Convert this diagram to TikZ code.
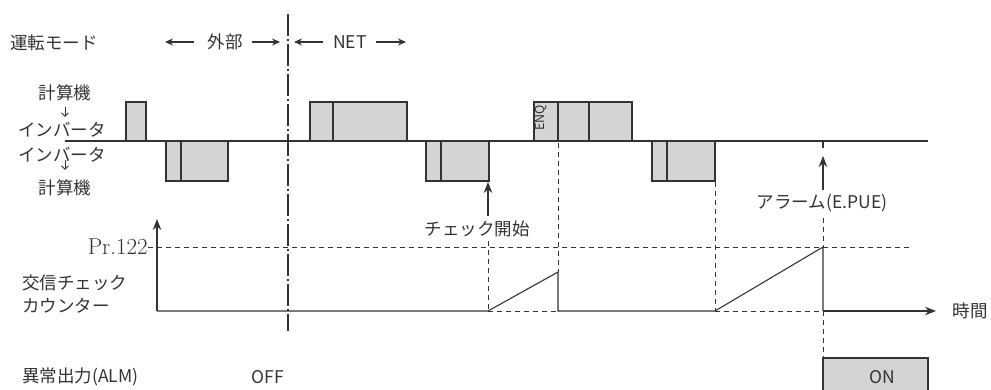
\documentclass[tikz,border=0pt]{standalone}
\usepackage{fontspec}
\newfontfamily\jp{Noto Sans CJK JP}
\usetikzlibrary{arrows.meta}
\definecolor{ink}{HTML}{333333}
\definecolor{boxgray}{HTML}{D3D4D6}
\tikzset{
  ln/.style={draw=ink, line width=1.1pt},
  dsh/.style={draw=ink, line width=0.9pt, dash pattern=on 5pt off 4pt},
  dashdot/.style={draw=ink, line width=1.1pt, dash pattern=on 22pt off 3pt on 2pt off 3pt},
  pulse/.style={draw=ink, fill=boxgray, line width=1.1pt},
  lbl/.style={text=ink, font=\jp\fontsize{17.5}{20}\selectfont, inner sep=0pt},
  arr/.style={-{Stealth[length=11pt,width=8.5pt]}},
  sarr/.style={-{Stealth[length=8pt,width=7pt]}},
  tiny/.style={-{Straight Barb[length=3.5pt,width=7pt]}, line width=1pt, draw=ink},
}
\begin{document}
\begin{tikzpicture}[x=1pt,y=-1pt]
\useasboundingbox (0,0) rectangle (991,390);
% ---- coordinates
\coordinate (L0) at (65,141);
\coordinate (L1) at (928,141);
% ---- labels
\node[lbl,anchor=west] (mode) at (10,43) {運転モード};
\node[lbl] (ext) at (225,42) {外部};
\node[lbl] (net) at (350,42) {NET};
\coordinate (e1) at (194,42); \coordinate (e1t) at (165,42);
\coordinate (e2) at (252,42); \coordinate (e2t) at (280,42);
\coordinate (n1) at (323,42); \coordinate (n1t) at (294,42);
\coordinate (n2) at (376,42); \coordinate (n2t) at (406,42);
\draw[ln,sarr] (e1) -- (e1t);
\draw[ln,sarr] (e2) -- (e2t);
\draw[ln,sarr] (n1) -- (n1t);
\draw[ln,sarr] (n2) -- (n2t);

\node[lbl] (pc1) at (65,93) {計算機};
\node[lbl] (inv1) at (62,130) {インバータ};
\node[lbl] (inv2) at (62,155) {インバータ};
\node[lbl] (pc2) at (65,188) {計算機};
\coordinate (a1s) at (65,107); \coordinate (a1e) at (65,117);
\coordinate (a2s) at (65,160); \coordinate (a2e) at (65,170);
\draw[tiny] (a1s) -- (a1e);
\draw[tiny] (a2s) -- (a2e);

% ---- pulses
\draw[pulse] (126,102) rectangle (146,141);
\draw[pulse] (166,141) rectangle (228,181); \draw[ln] (181,141) -- (181,181);
\draw[pulse] (310,102) rectangle (407,141); \draw[ln] (333,102) -- (333,141);
\draw[pulse] (426,141) rectangle (489,181); \draw[ln] (441,141) -- (441,181);
\draw[pulse] (534,102) rectangle (632,141); \draw[ln] (558,102) -- (558,141); \draw[ln] (589,102) -- (589,141);
\draw[pulse] (652,141) rectangle (715,181); \draw[ln] (667,141) -- (667,181);
\node[text=ink, font=\jp\fontsize{12.5}{13}\selectfont, rotate=90, inner sep=0pt] (enq) at (541,118) {ENQ};
\draw[ln] (L0) -- (L1);

% ---- mode divider
\coordinate (d0) at (288,14); \coordinate (d1) at (288,331);
\draw[dashdot] (d0) -- (d1);

% ---- annotations
\node[lbl] (chk) at (477,229) {チェック開始};
\coordinate (chkT) at (488,182);
\coordinate (chkS) at (488,216);
\draw[ln,arr] (chkS) -- (chkT);
\node[lbl] (alm) at (822,203) {アラーム(E.PUE)};
\coordinate (almT) at (823,156);
\coordinate (almS) at (823,190);
\draw[ln,arr] (almS) -- (almT);
\coordinate (tick0) at (823,141); \coordinate (tick1) at (823,148);
\draw[ln] (tick0) -- (tick1);

% ---- counter
\coordinate (O) at (157,311);
\coordinate (Ytop) at (157,219);
\draw[ln,arr] (O) -- (Ytop);
\node[font=\fontsize{23}{24}\selectfont, text=ink, inner sep=0pt, anchor=east] (pr) at (148,247) {Pr.122};
\draw[dsh] (pr.east) -- (912,247);
\node[lbl,anchor=west] (cnt1) at (22,283) {交信チェック};
\node[lbl,anchor=west] (cnt2) at (22,306) {カウンター};

\coordinate (r1s) at (488,311); \coordinate (r1e) at (558,272); \coordinate (r1b) at (558,311);
\coordinate (r2s) at (715,311); \coordinate (r2e) at (823,247); \coordinate (r2b) at (823,311);
\coordinate (tend) at (936,311);
\draw[ln] (O) -- (r1s) -- (r1e) -- (r1b) -- (r2s) -- (r2e) -- (r2b);
\draw[ln,arr] (r2b) -- (tend);
\draw[dsh] (r1s) -- (r1b);
\draw[dsh] (r2s) -- (r2b);
\node[lbl] (time) at (970,311) {時間};

% vertical dashed guides
\draw[dsh] (488,241) -- (r1s);
\draw[dsh] (558,143) -- (r1e);
\draw[dsh] (715,182) -- (r2s);
\draw[dsh] (823,218) -- (r2e);
\draw[dsh] (r2b) -- (823,358);

% ---- alarm output
\node[lbl,anchor=west] (out) at (22,377) {異常出力(ALM)};
\node[lbl] (off) at (268,377) {OFF};
\fill[boxgray] (823,358) rectangle (928,391);
\draw[ln] (823,391) -- (823,358) -- (928,358) -- (928,391);
\node[lbl] (on) at (882,377) {ON};
\end{tikzpicture}
\end{document}
